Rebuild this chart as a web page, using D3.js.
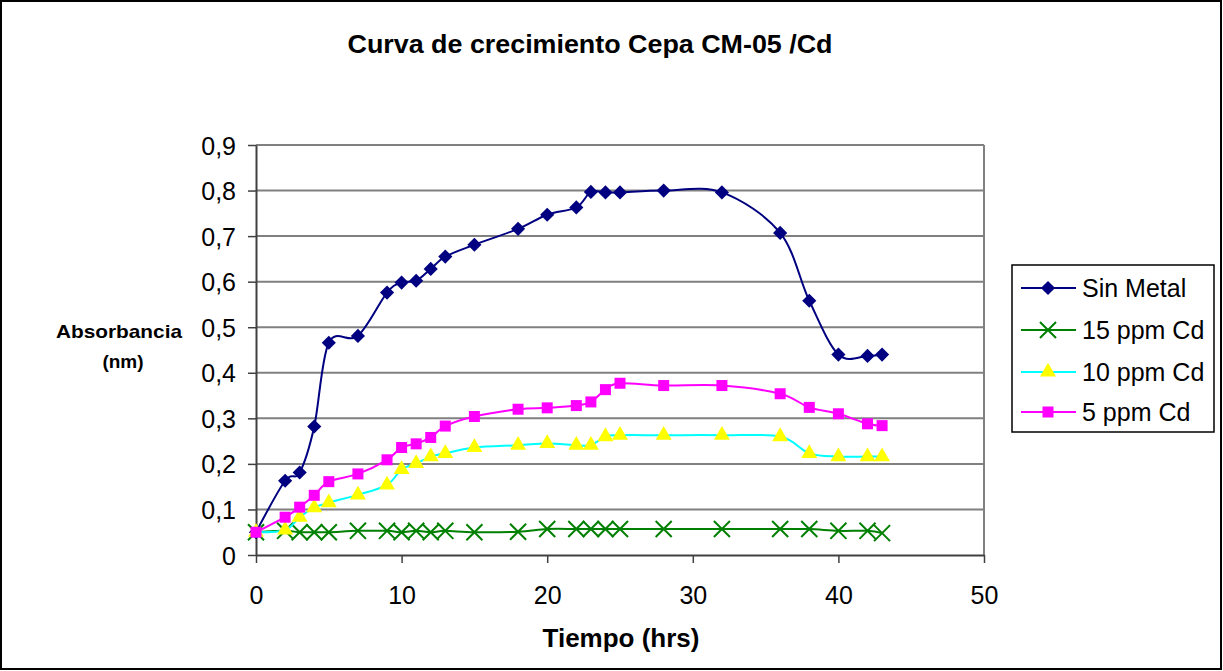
<!DOCTYPE html>
<html>
<head>
<meta charset="utf-8">
<script src="https://cdn.jsdelivr.net/npm/d3@7"></script>
<style>
  body { margin: 0; background: #fff; }
  svg text { font-family: "Liberation Sans", Arial, sans-serif; fill: #000; }
</style>
</head>
<body>
<svg id="chart" width="1223" height="671"></svg>
<script>
// data
const tiempo = [0, 2, 3, 4, 5, 7, 9, 10, 11, 12, 13, 15, 18, 20, 22, 23, 24, 25, 28, 32, 36, 38, 40, 42, 43];
const sinMetal = [0.05, 0.163, 0.181, 0.282, 0.466, 0.481, 0.576, 0.598, 0.602, 0.628, 0.655, 0.681, 0.716, 0.747, 0.763, 0.797, 0.796, 0.796, 0.800, 0.796, 0.707, 0.558, 0.440, 0.437, 0.440];
const cd15 = [0.05, 0.053, 0.050, 0.050, 0.050, 0.053, 0.053, 0.050, 0.053, 0.050, 0.053, 0.050, 0.051, 0.057, 0.057, 0.057, 0.057, 0.057, 0.057, 0.057, 0.057, 0.057, 0.053, 0.053, 0.048];
const cd10 = [0.05, 0.055, 0.083, 0.104, 0.115, 0.132, 0.154, 0.188, 0.201, 0.216, 0.223, 0.236, 0.241, 0.245, 0.241, 0.241, 0.260, 0.263, 0.263, 0.263, 0.260, 0.223, 0.216, 0.216, 0.216];
const cd5 = [0.05, 0.083, 0.105, 0.131, 0.161, 0.178, 0.209, 0.236, 0.244, 0.258, 0.283, 0.304, 0.320, 0.323, 0.328, 0.336, 0.363, 0.377, 0.372, 0.372, 0.354, 0.324, 0.310, 0.288, 0.284];
const seriesNames = ["Sin Metal", "15 ppm Cd", "10 ppm Cd", "5 ppm Cd"];
const xTicks = [0, 10, 20, 30, 40, 50];
const yTicks = [0, 0.1, 0.2, 0.3, 0.4, 0.5, 0.6, 0.7, 0.8, 0.9];
const title = "Curva de crecimiento Cepa CM-05 /Cd";
const xTitle = "Tiempo (hrs)";
const yTitle = ["Absorbancia", "(nm)"];

const svg = d3.select("#chart");

const styles = [
    {line: "#000080", fill: "#000080", stroke: "none", shape: "diamond"},
    {line: "#008000", fill: "none", stroke: "#008000", shape: "x"},
    {line: "#00ffff", fill: "#ffff00", stroke: "none", shape: "triangle"},
    {line: "#ff00ff", fill: "#ff00ff", stroke: "none", shape: "square"}
];
const values = [sinMetal, cd15, cd10, cd5];

const x = d3.scaleLinear().domain([0, 50]).range([256, 984]);
const y = d3.scaleLinear().domain([0, 0.9]).range([555, 145]);

// outer frame
svg.append("rect")
    .attr("x", 1).attr("y", 1).attr("width", 1220).attr("height", 668)
    .attr("fill", "#fff").attr("stroke", "#000").attr("stroke-width", 2);

svg.append("text")
    .attr("x", 590).attr("y", 53)
    .attr("text-anchor", "middle")
    .style("font-size", "26px").style("font-weight", "bold")
    .attr("textLength", 485).attr("lengthAdjust", "spacingAndGlyphs")
    .text(title);

// gridlines
svg.append("g").selectAll("line")
    .data(yTicks.filter(d => d > 0))
    .join("line")
    .attr("x1", x(0)).attr("x2", x(50))
    .attr("y1", d => y(d)).attr("y2", d => y(d))
    .attr("stroke", "#808080").attr("stroke-width", 2);

// right border of plot
svg.append("line")
    .attr("x1", x(50)).attr("x2", x(50)).attr("y1", y(0.9)).attr("y2", y(0))
    .attr("stroke", "#808080").attr("stroke-width", 2);

// axes
const xAxis = svg.append("g")
    .attr("transform", `translate(0,${y(0)})`)
    .call(d3.axisBottom(x).tickValues(xTicks).tickSize(8).tickSizeOuter(0).tickPadding(23));
const yAxis = svg.append("g")
    .attr("transform", `translate(${x(0)},0)`)
    .call(d3.axisLeft(y).tickValues(yTicks).tickSize(8).tickSizeOuter(0).tickPadding(12)
        .tickFormat(d => d === 0 ? "0" : d3.format(".1f")(d).replace(".", ",")));
[xAxis, yAxis].forEach(a => {
    a.select(".domain").attr("stroke", "#404040").attr("stroke-width", 2);
    a.selectAll(".tick line").attr("stroke", "#404040").attr("stroke-width", 1.5);
    a.selectAll("text").style("font-size", "25px").attr("fill", "#000");
});
yAxis.selectAll(".tick text").attr("dy", "0.36em");

svg.append("text")
    .attr("x", 621).attr("y", 647)
    .attr("text-anchor", "middle")
    .style("font-size", "25px").style("font-weight", "bold")
    .attr("textLength", 157).attr("lengthAdjust", "spacingAndGlyphs")
    .text(xTitle);

svg.append("text")
    .attr("x", 119).attr("y", 338)
    .attr("text-anchor", "middle")
    .style("font-size", "19px").style("font-weight", "bold")
    .attr("textLength", 126).attr("lengthAdjust", "spacingAndGlyphs")
    .text(yTitle[0]);
svg.append("text")
    .attr("x", 123).attr("y", 368)
    .attr("text-anchor", "middle")
    .style("font-size", "19px").style("font-weight", "bold")
    .text(yTitle[1]);

// marker generator
const marker = function(g, shape, st) {
    if (shape === "diamond") {
        g.append("path").attr("d", d3.symbol(d3.symbolSquare, 100)())
            .attr("transform", "rotate(45)").attr("fill", st.fill);
    } else if (shape === "square") {
        g.append("path").attr("d", d3.symbol(d3.symbolSquare, 121)())
            .attr("fill", st.fill);
    } else if (shape === "triangle") {
        g.append("path").attr("d", d3.symbol(d3.symbolTriangle, 110)())
            .attr("fill", st.fill);
    } else {
        g.append("path").attr("d", d3.symbol(d3.symbolX, 170)())
            .attr("fill", "none").attr("stroke", st.stroke).attr("stroke-width", 2);
    }
};

const line = d3.line()
    .x(d => x(d[0]))
    .y(d => y(d[1]))
    .curve(d3.curveCatmullRom.alpha(0));

values.forEach(function(vals, i) {
    const st = styles[i];
    const pts = tiempo.map((t, j) => [t, vals[j]]);
    const g = svg.append("g");
    g.append("path")
        .attr("d", line(pts))
        .attr("fill", "none")
        .attr("stroke", st.line)
        .attr("stroke-width", 2);
    g.selectAll("g.m")
        .data(pts)
        .join("g")
        .attr("class", "m")
        .attr("transform", d => `translate(${x(d[0])},${y(d[1])})`)
        .each(function() { marker(d3.select(this), st.shape, st); });
});

// legend
const legend = svg.append("g");
legend.append("rect")
    .attr("x", 1012).attr("y", 265).attr("width", 202).attr("height", 167)
    .attr("fill", "#fff").attr("stroke", "#000").attr("stroke-width", 1.5);
const legendY = [288, 330, 372, 412];
seriesNames.forEach(function(name, i) {
    const st = styles[i];
    const row = legend.append("g").attr("transform", `translate(0,${legendY[i]})`);
    row.append("line")
        .attr("x1", 1021).attr("x2", 1076).attr("y1", 0).attr("y2", 0)
        .attr("stroke", st.line).attr("stroke-width", 2);
    const m = row.append("g").attr("transform", "translate(1048,0)");
    marker(m, st.shape, st);
    row.append("text")
        .attr("x", 1082).attr("y", 0).attr("dy", "0.36em")
        .style("font-size", "25px")
        .text(name);
});
</script>
</body>
</html>
